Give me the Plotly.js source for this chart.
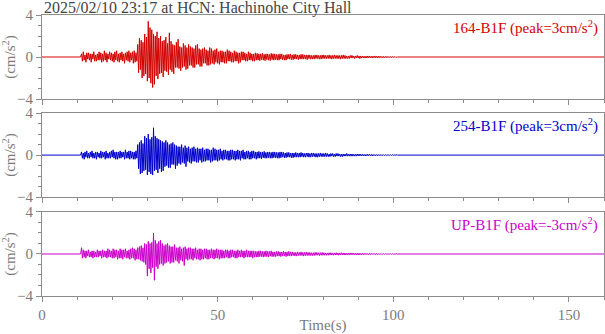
<!DOCTYPE html>
<html>
<head>
<meta charset="utf-8">
<script src="https://cdn.plot.ly/plotly-3.0.1.min.js"></script>
<style>
  html, body { margin: 0; padding: 0; background: #fff; }
  #chart { width: 605px; height: 334px; }
</style>
</head>
<body>
<div id="chart"></div>
<script>
// record window and sampling (s)
const recordStart = 0;
const recordEnd = 160;
const onsetTime = 11;
const sampleStep = 0.25;

const chartTitle = "2025/02/10 23:17 at HCN: Hachinohe City Hall";
const channelNames = ["164-B1F", "254-B1F", "UP-B1F"];
const channelPeaks = ["3", "3", "-3"];
const channelColors = ["#d40000", "#0000cc", "#cc00cc"];

// acceleration (cm/s^2), one value per sample after onsetTime
const acc164 = [
  0.3,-0.4,0.5,-0.3, 0.2,-0.5,0.4,-0.2, 0.4,-0.3,0.3,-0.5, 0.3,-0.2,0.5,-0.4, 0.2,-0.4,0.3,-0.3,
  0.5,-0.3,0.4,-0.5, 0.3,-0.4,0.6,-0.3, 0.4,-0.5,0.3,-0.2, 0.5,-0.3,0.4,-0.4, 0.3,-0.5,0.5,-0.3,
  0.6,-0.4,0.3,-0.5, 0.4,-0.3,0.5,-0.4, 0.3,-0.6,0.4,-0.3, 0.5,-0.4,0.6,-0.5, 0.4,-0.3,0.5,-0.6,
  0.6,-0.5,0.4,-0.4, 1.2,-1.5,1.8,-1.2, 1.6,-2.0,1.4,-1.8, 2.2,-1.6,1.9,-2.3, 3.4,-2.0,2.8,-2.5,
  2.6,-2.9,2.2,-2.6, 2.0,-1.8,2.4,-2.1, 1.8,-1.6,2.0,-1.5, 1.5,-1.9,1.6,-1.3, 1.9,-1.4,1.3,-1.7,
  2.3,-1.2,1.5,-1.4, 1.2,-1.6,1.1,-1.0, 1.4,-1.0,1.7,-1.1, 1.0,-1.3,0.9,-1.0, 1.3,-0.9,1.1,-1.2,
  0.9,-1.1,1.2,-0.8, 1.0,-0.8,0.9,-1.0, 0.8,-1.0,1.1,-0.7, 1.2,-0.7,0.8,-0.9, 0.7,-0.9,0.8,-0.6,
  0.9,-0.6,0.7,-0.8, 0.6,-0.8,0.9,-0.7, 0.8,-0.6,0.6,-0.7, 0.7,-0.5,0.8,-0.6, 0.5,-0.7,0.6,-0.5,
  0.6,-0.5,0.5,-0.6, 0.5,-0.6,0.7,-0.4, 0.6,-0.4,0.5,-0.5, 0.4,-0.5,0.6,-0.4, 0.5,-0.4,0.4,-0.6,
  0.4,-0.5,0.5,-0.3, 0.5,-0.3,0.4,-0.4, 0.3,-0.4,0.5,-0.3, 0.4,-0.3,0.3,-0.4, 0.3,-0.4,0.4,-0.3,
  0.35,-0.3,0.3,-0.35, 0.3,-0.25,0.35,-0.3, 0.25,-0.35,0.3,-0.25, 0.3,-0.3,0.25,-0.35, 0.35,-0.25,0.3,-0.3,
  0.3,-0.25,0.25,-0.3, 0.25,-0.3,0.3,-0.2, 0.3,-0.25,0.2,-0.3, 0.2,-0.3,0.25,-0.2, 0.25,-0.2,0.3,-0.25,
  0.2,-0.25,0.25,-0.2, 0.25,-0.2,0.2,-0.25, 0.2,-0.2,0.25,-0.2, 0.25,-0.2,0.2,-0.2, 0.2,-0.25,0.2,-0.15,
  0.2,-0.2,0.15,-0.2, 0.15,-0.2,0.2,-0.15, 0.2,-0.15,0.15,-0.2, 0.15,-0.2,0.2,-0.15, 0.2,-0.15,0.15,-0.15,
  0.15,-0.15,0.2,-0.15, 0.15,-0.2,0.15,-0.15, 0.2,-0.15,0.15,-0.15, 0.15,-0.15,0.15,-0.2, 0.15,-0.15,0.2,-0.15,
  0.15,-0.15,0.1,-0.15, 0.1,-0.15,0.15,-0.1, 0.15,-0.1,0.1,-0.15, 0.1,-0.1,0.15,-0.1, 0.1,-0.15,0.1,-0.1,
  0.1,-0.1,0.08,-0.1, 0.08,-0.1,0.1,-0.08, 0.1,-0.08,0.08,-0.1, 0.08,-0.08,0.1,-0.08, 0.08,-0.1,0.08,-0.08,
  0.08,-0.06,0.06,-0.08, 0.06,-0.08,0.06,-0.06, 0.06,-0.06,0.05,-0.06, 0.05,-0.06,0.05,-0.05, 0.05,-0.05,0.04,-0.04, 0
];

const acc254 = [
  0.3,-0.3,0.2,-0.4, 0.3,-0.2,0.4,-0.3, 0.2,-0.3,0.3,-0.2, 0.4,-0.3,0.2,-0.3, 0.3,-0.4,0.3,-0.2,
  0.2,-0.3,0.4,-0.3, 0.3,-0.2,0.3,-0.4, 0.4,-0.3,0.2,-0.3, 0.3,-0.3,0.4,-0.2, 0.5,-0.3,0.3,-0.4,
  0.3,-0.4,0.3,-0.3, 0.4,-0.3,0.3,-0.2, 0.3,-0.4,0.5,-0.3, 0.3,-0.3,0.4,-0.4, 0.4,-0.3,0.3,-0.4,
  0.3,-0.4,0.4,-0.3, 1.0,-1.3,1.2,-1.8, 1.4,-1.7,1.1,-1.5, 1.8,-1.4,1.6,-1.9, 2.0,-1.6,1.5,-1.8,
  1.7,-1.9,2.6,-1.5, 1.8,-1.4,1.6,-1.7, 1.5,-1.3,1.4,-1.6, 1.3,-1.5,1.2,-1.1, 1.4,-1.0,1.2,-1.2,
  1.0,-1.2,1.1,-0.9, 1.2,-0.9,1.0,-1.3, 0.9,-1.0,0.8,-0.8, 0.8,-0.9,1.0,-0.7, 0.7,-0.8,0.9,-1.1,
  0.7,-0.6,0.8,-0.7, 0.6,-0.8,0.7,-0.6, 0.8,-0.6,0.6,-0.7, 0.7,-0.7,0.6,-0.5, 0.6,-0.7,0.7,-0.6,
  0.5,-0.6,0.6,-0.5, 0.6,-0.5,0.5,-0.7, 0.5,-0.6,0.7,-0.5, 0.6,-0.5,0.5,-0.6, 0.5,-0.5,0.6,-0.4,
  0.4,-0.5,0.5,-0.4, 0.5,-0.4,0.4,-0.5, 0.4,-0.5,0.5,-0.4, 0.5,-0.4,0.4,-0.5, 0.4,-0.4,0.5,-0.4,
  0.4,-0.5,0.4,-0.3, 0.5,-0.4,0.3,-0.4, 0.4,-0.3,0.4,-0.4, 0.3,-0.4,0.4,-0.3, 0.4,-0.3,0.3,-0.4,
  0.3,-0.3,0.35,-0.3, 0.3,-0.35,0.3,-0.25, 0.35,-0.3,0.25,-0.3, 0.3,-0.25,0.3,-0.3, 0.25,-0.3,0.3,-0.25,
  0.3,-0.25,0.25,-0.3, 0.25,-0.3,0.3,-0.25, 0.3,-0.2,0.25,-0.25, 0.2,-0.25,0.25,-0.2, 0.25,-0.2,0.2,-0.25,
  0.2,-0.25,0.2,-0.2, 0.25,-0.2,0.2,-0.2, 0.2,-0.2,0.25,-0.15, 0.2,-0.2,0.15,-0.2, 0.2,-0.15,0.2,-0.2,
  0.15,-0.2,0.2,-0.15, 0.2,-0.15,0.15,-0.2, 0.15,-0.2,0.15,-0.15, 0.2,-0.15,0.15,-0.15, 0.15,-0.15,0.2,-0.15,
  0.15,-0.15,0.1,-0.15, 0.15,-0.1,0.15,-0.15, 0.1,-0.15,0.15,-0.1, 0.15,-0.1,0.1,-0.15, 0.1,-0.15,0.1,-0.1,
  0.1,-0.1,0.15,-0.1, 0.1,-0.1,0.1,-0.1, 0.1,-0.1,0.08,-0.1, 0.08,-0.1,0.1,-0.08, 0.1,-0.08,0.08,-0.08,
  0.08,-0.08,0.06,-0.08, 0.06,-0.08,0.08,-0.06, 0.06,-0.06,0.06,-0.08, 0.06,-0.06,0.05,-0.06, 0.05,-0.06,0.05,-0.05,
  0.05,-0.05,0.04,-0.05, 0.04,-0.05,0.04,-0.04, 0.04,-0.04,0.03,-0.04, 0.03,-0.04,0.03,-0.03, 0.03,-0.03,0.02,-0.02, 0
];

const accUP = [
  0.6,-0.4,0.4,-0.3, 0.3,-0.4,0.3,-0.2, 0.4,-0.3,0.2,-0.3, 0.3,-0.4,0.3,-0.3, 0.2,-0.3,0.4,-0.3,
  0.3,-0.2,0.3,-0.4, 0.4,-0.3,0.3,-0.3, 0.3,-0.4,0.5,-0.3, 0.4,-0.3,0.3,-0.4, 0.5,-0.4,0.4,-0.3,
  0.4,-0.5,0.3,-0.4, 0.5,-0.4,0.4,-0.5, 0.4,-0.3,0.5,-0.4, 0.3,-0.4,0.4,-0.5, 0.5,-0.4,0.6,-0.4,
  0.5,-0.6,0.4,-0.5, 0.6,-0.5,0.7,-0.6, 0.8,-0.7,0.6,-0.8, 1.0,-1.0,0.9,-2.1, 1.2,-1.4,1.0,-1.8,
  1.1,-1.3,2.0,-2.5, 1.3,-1.2,1.0,-1.4, 1.2,-1.0,1.3,-0.9, 1.0,-1.1,0.8,-0.9, 0.9,-0.8,1.0,-0.7,
  0.8,-0.9,0.7,-0.8, 0.7,-0.8,0.9,-0.6, 0.6,-0.7,0.6,-0.9, 0.7,-0.6,0.5,-0.7, 0.6,-1.1,0.7,-0.5,
  0.5,-0.6,0.6,-0.5, 0.6,-0.5,0.5,-0.6, 0.5,-0.4,0.6,-0.5, 0.4,-0.5,0.5,-0.6, 0.5,-0.5,0.4,-0.5,
  0.5,-0.4,0.5,-0.5, 0.4,-0.5,0.4,-0.4, 0.5,-0.4,0.4,-0.5, 0.4,-0.4,0.5,-0.4, 0.4,-0.5,0.4,-0.4,
  0.4,-0.4,0.3,-0.4, 0.4,-0.3,0.4,-0.4, 0.3,-0.4,0.4,-0.3, 0.4,-0.3,0.3,-0.4, 0.3,-0.4,0.4,-0.3,
  0.3,-0.3,0.4,-0.3, 0.3,-0.4,0.3,-0.3, 0.4,-0.3,0.3,-0.3, 0.3,-0.3,0.3,-0.4, 0.3,-0.3,0.25,-0.3,
  0.25,-0.3,0.3,-0.25, 0.3,-0.25,0.25,-0.3, 0.25,-0.25,0.3,-0.25, 0.25,-0.3,0.25,-0.2, 0.3,-0.25,0.2,-0.25,
  0.2,-0.25,0.25,-0.2, 0.25,-0.2,0.2,-0.25, 0.2,-0.2,0.25,-0.2, 0.2,-0.25,0.2,-0.2, 0.25,-0.2,0.2,-0.2,
  0.2,-0.15,0.15,-0.2, 0.15,-0.2,0.2,-0.15, 0.15,-0.15,0.2,-0.15, 0.15,-0.2,0.15,-0.15, 0.2,-0.15,0.15,-0.15,
  0.15,-0.15,0.12,-0.15, 0.12,-0.15,0.15,-0.12, 0.15,-0.12,0.12,-0.15, 0.12,-0.12,0.15,-0.12, 0.12,-0.12,0.1,-0.12,
  0.1,-0.12,0.12,-0.1, 0.12,-0.1,0.1,-0.12, 0.1,-0.1,0.12,-0.1, 0.1,-0.12,0.1,-0.1, 0.12,-0.1,0.1,-0.1,
  0.1,-0.1,0.08,-0.1, 0.08,-0.1,0.1,-0.08, 0.1,-0.08,0.08,-0.08, 0.08,-0.08,0.08,-0.1, 0.08,-0.08,0.06,-0.08,
  0.06,-0.08,0.06,-0.06, 0.06,-0.06,0.06,-0.06, 0.05,-0.06,0.06,-0.05, 0.05,-0.05,0.05,-0.06, 0.05,-0.05,0.04,-0.05,
  0.04,-0.05,0.04,-0.04, 0.04,-0.04,0.04,-0.04, 0.03,-0.04,0.03,-0.03, 0.03,-0.03,0.03,-0.03, 0.03,-0.03,0.02,-0.02, 0
];

const channels = [acc164, acc254, accUP];

const fontFam = "'Liberation Serif', 'Times New Roman', serif";
const axisGray = "#8c8c8c";
const labelGray = "#7a7a7a";

function traceFor(values, k) {
  // quiet record before onset, then the sampled motion, then quiet to the end
  const t = [recordStart, onsetTime];
  const a = [0, 0];
  for (let i = 0; i < values.length; i++) {
    t.push(onsetTime + (i + 1) * sampleStep);
    a.push(values[i]);
  }
  t.push(recordEnd);
  a.push(0);
  return {
    x: t, y: a, type: "scatter", mode: "lines",
    line: { color: channelColors[k], width: 1 },
    xaxis: k === 0 ? "x" : "x" + (k + 1),
    yaxis: k === 0 ? "y" : "y" + (k + 1),
    hoverinfo: "skip"
  };
}

const data = channels.map((v, k) => traceFor(v, k));

const domains = [[0.701, 1], [0.352, 0.651], [0, 0.299]];

function xAxis(k) {
  return {
    domain: [0, 1],
    range: [0, 160],
    anchor: k === 0 ? "y" : "y" + (k + 1),
    showgrid: false, zeroline: false,
    showline: true, mirror: true, linecolor: axisGray, linewidth: 1,
    ticks: "outside", ticklen: 5, tickcolor: axisGray, dtick: 50, tick0: 0,
    minor: { dtick: 10, ticks: "outside", ticklen: 3, tickcolor: axisGray },
    showticklabels: k === 2,
    tickfont: { family: fontFam, size: 15, color: labelGray },
    title: k === 2 ? { text: "Time(s)", font: { family: fontFam, size: 15, color: labelGray }, standoff: 2 } : { text: "" }
  };
}

function yAxis(k) {
  return {
    domain: domains[k],
    range: [-4, 4],
    anchor: k === 0 ? "x" : "x" + (k + 1),
    showgrid: false, zeroline: false,
    showline: true, mirror: true, linecolor: axisGray, linewidth: 1,
    ticks: "outside", ticklen: 5, tickcolor: axisGray,
    tickvals: [-4, 0, 4],
    minor: { dtick: 1, ticks: "outside", ticklen: 3, tickcolor: axisGray },
    tickfont: { family: fontFam, size: 15, color: labelGray },
    title: { text: "(cm/s<sup>2</sup>)", font: { family: fontFam, size: 15, color: labelGray }, standoff: 6 }
  };
}

const layout = {
  width: 605, height: 334,
  margin: { l: 42, r: 1, t: 15, b: 38 },
  paper_bgcolor: "#fff", plot_bgcolor: "#fff",
  showlegend: false,
  font: { family: fontFam },
  xaxis: xAxis(0), xaxis2: xAxis(1), xaxis3: xAxis(2),
  yaxis: yAxis(0), yaxis2: yAxis(1), yaxis3: yAxis(2),
  annotations: [
    {
      text: chartTitle, xref: "paper", yref: "paper", x: 0, y: 1,
      xanchor: "left", yanchor: "bottom", showarrow: false, yshift: -4,
      font: { family: fontFam, size: 16, color: "#444" }
    }
  ].concat(channelNames.map((n, k) => ({
    text: n + " (peak=" + channelPeaks[k] + "cm/s<sup>2</sup>)",
    xref: "paper", yref: (k === 0 ? "y" : "y" + (k + 1)) + " domain",
    x: 0.993, y: 0.99, xanchor: "right", yanchor: "top", showarrow: false,
    font: { family: fontFam, size: 15, color: channelColors[k] }
  })))
};

Plotly.newPlot("chart", data, layout, { staticPlot: true, displayModeBar: false });
</script>
</body>
</html>
